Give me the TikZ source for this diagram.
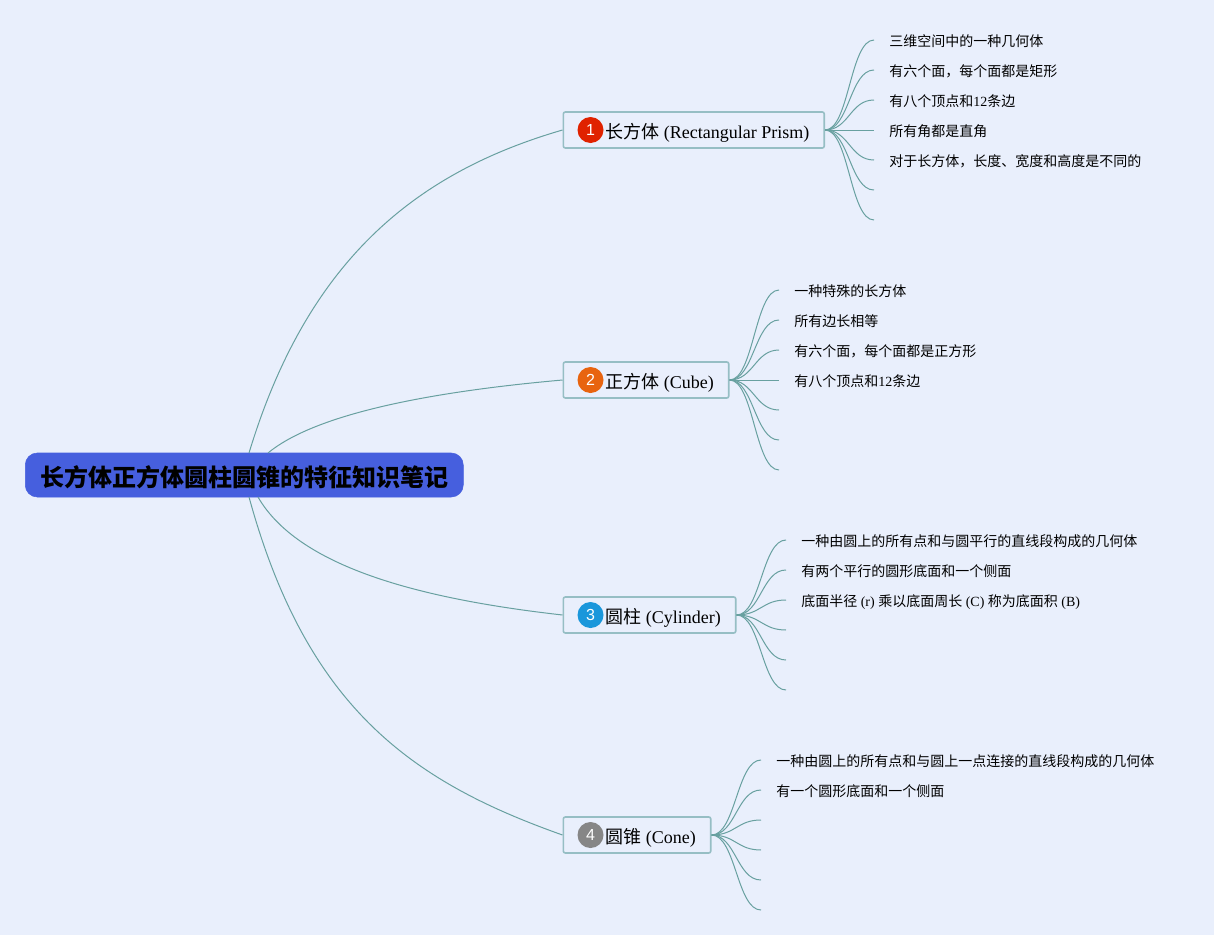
\documentclass[tikz,border=0pt]{standalone}
\usepackage{fontspec}
\usetikzlibrary{calc}
\setmainfont{Liberation Serif}
\newfontfamily\cjkfont{Noto Sans CJK SC}
\newfontfamily\digitfont{Liberation Sans}
\definecolor{pagebg}{RGB}{233,239,252}
\definecolor{rootblue}{RGB}{70,95,222}
\definecolor{boxline}{RGB}{150,190,196}
\definecolor{twigline}{RGB}{104,160,160}
\definecolor{badgeone}{RGB}{224,34,0}
\definecolor{badgetwo}{RGB}{232,100,15}
\definecolor{badgethree}{RGB}{26,151,219}
\definecolor{badgefour}{RGB}{134,134,134}
\tikzset{
  rootbox/.style={draw=rootblue,fill=rootblue,rounded corners=9pt,inner xsep=11.25pt,inner ysep=0pt,minimum height=33pt,text height=16.6pt,text depth=0pt,anchor=west,font=\cjkfont\bfseries\fontsize{18}{21}\selectfont},
  branchbox/.style={draw=boxline,fill=pagebg,line width=1.2pt,rounded corners=1.5pt,inner xsep=11.25pt,inner ysep=0pt,minimum height=27pt,text height=12.4pt,text depth=0pt,anchor=west,font=\fontsize{13.5}{16}\selectfont},
  badge/.style={circle,fill=#1,text=white,inner sep=0pt,minimum size=19.5pt,font=\digitfont\fontsize{12}{14}\selectfont},
  leaf/.style={anchor=west,inner xsep=11.25pt,inner ysep=1pt,text height=9.4pt,text depth=0pt,font=\fontsize{10.5}{13}\selectfont},
  limb/.style={draw=twigline,line width=0.75pt},
  twig/.style={draw=twigline,line width=0.75pt,to path={.. controls ($(\tikztostart)+(24,0)$) and ($(\tikztotarget)+(-24,0)$) .. (\tikztotarget)}},
}
\newcommand{\zh}[1]{{\cjkfont #1}}
\begin{document}
\begin{tikzpicture}[x=0.75pt,y=0.75pt,yscale=-1,xscale=1]
\useasboundingbox[fill=pagebg] (0,0) rectangle (1214,935);

% Branch boxes
\node (root) [rootbox] at (25,475) {长方体正方体圆柱圆锥的特征知识笔记};
\node (prism) [branchbox] at (562.5,130) {\hspace*{20.25pt}\zh{长方体} (Rectangular Prism)};
\node (cube) [branchbox] at (562.5,380) {\hspace*{20.25pt}\zh{正方体} (Cube)};
\node (cylinder) [branchbox] at (562.5,615) {\hspace*{20.25pt}\zh{圆柱} (Cylinder)};
\node (cone) [branchbox] at (562.5,835) {\hspace*{20.25pt}\zh{圆锥} (Cone)};

% Badges
\node (badgeA) [badge=badgeone] at (590.5,130) {1};
\node (badgeB) [badge=badgetwo] at (590.5,380) {2};
\node (badgeC) [badge=badgethree] at (590.5,615) {3};
\node (badgeD) [badge=badgefour] at (590.5,835) {4};

% Where the limbs leave the root
\coordinate (rootA) at (249,453);
\coordinate (rootB) at (268,453);
\coordinate (rootC) at (258,497);
\coordinate (rootD) at (249,497);

% Limbs
\draw [limb] (rootA) .. controls (308,258) and (418,172) .. (prism.west);
\draw [limb] (rootB) .. controls (320,410) and (450,390) .. (cube.west);
\draw [limb] (rootC) .. controls (300,570) and (430,600) .. (cylinder.west);
\draw [limb] (rootD) .. controls (307,709) and (413,782) .. (cone.west);

% Leaves of the prism
\node (prismA) [leaf] at (874,40) {\zh{三维空间中的一种几何体}};
\node (prismB) [leaf] at (874,70) {\zh{有六个面，每个面都是矩形}};
\node (prismC) [leaf] at (874,100) {\zh{有八个顶点和}12\zh{条边}};
\node (prismD) [leaf] at (874,130) {\zh{所有角都是直角}};
\node (prismE) [leaf] at (874,160) {\zh{对于长方体，长度、宽度和高度是不同的}};
\coordinate (prismF) at (874,190);
\coordinate (prismG) at (874,220);
\draw [twig] (prism.east) to (prismA.west);
\draw [twig] (prism.east) to (prismB.west);
\draw [twig] (prism.east) to (prismC.west);
\draw [twig] (prism.east) to (prismD.west);
\draw [twig] (prism.east) to (prismE.west);
\draw [twig] (prism.east) to (prismF);
\draw [twig] (prism.east) to (prismG);

% Leaves of the cube
\node (cubeA) [leaf] at (779,290) {\zh{一种特殊的长方体}};
\node (cubeB) [leaf] at (779,320) {\zh{所有边长相等}};
\node (cubeC) [leaf] at (779,350) {\zh{有六个面，每个面都是正方形}};
\node (cubeD) [leaf] at (779,380) {\zh{有八个顶点和}12\zh{条边}};
\coordinate (cubeE) at (779,410);
\coordinate (cubeF) at (779,440);
\coordinate (cubeG) at (779,470);
\draw [twig] (cube.east) to (cubeA.west);
\draw [twig] (cube.east) to (cubeB.west);
\draw [twig] (cube.east) to (cubeC.west);
\draw [twig] (cube.east) to (cubeD.west);
\draw [twig] (cube.east) to (cubeE);
\draw [twig] (cube.east) to (cubeF);
\draw [twig] (cube.east) to (cubeG);

% Leaves of the cylinder
\node (cylinderA) [leaf] at (786,540) {\zh{一种由圆上的所有点和与圆平行的直线段构成的几何体}};
\node (cylinderB) [leaf] at (786,570) {\zh{有两个平行的圆形底面和一个侧面}};
\node (cylinderC) [leaf] at (786,600) {\zh{底面半径} (r) \zh{乘以底面周长} (C) \zh{称为底面积} (B)};
\coordinate (cylinderD) at (786,630);
\coordinate (cylinderE) at (786,660);
\coordinate (cylinderF) at (786,690);
\draw [twig] (cylinder.east) to (cylinderA.west);
\draw [twig] (cylinder.east) to (cylinderB.west);
\draw [twig] (cylinder.east) to (cylinderC.west);
\draw [twig] (cylinder.east) to (cylinderD);
\draw [twig] (cylinder.east) to (cylinderE);
\draw [twig] (cylinder.east) to (cylinderF);

% Leaves of the cone
\node (coneA) [leaf] at (761,760) {\zh{一种由圆上的所有点和与圆上一点连接的直线段构成的几何体}};
\node (coneB) [leaf] at (761,790) {\zh{有一个圆形底面和一个侧面}};
\coordinate (coneC) at (761,820);
\coordinate (coneD) at (761,850);
\coordinate (coneE) at (761,880);
\coordinate (coneF) at (761,910);
\draw [twig] (cone.east) to (coneA.west);
\draw [twig] (cone.east) to (coneB.west);
\draw [twig] (cone.east) to (coneC);
\draw [twig] (cone.east) to (coneD);
\draw [twig] (cone.east) to (coneE);
\draw [twig] (cone.east) to (coneF);

\end{tikzpicture}
\end{document}
